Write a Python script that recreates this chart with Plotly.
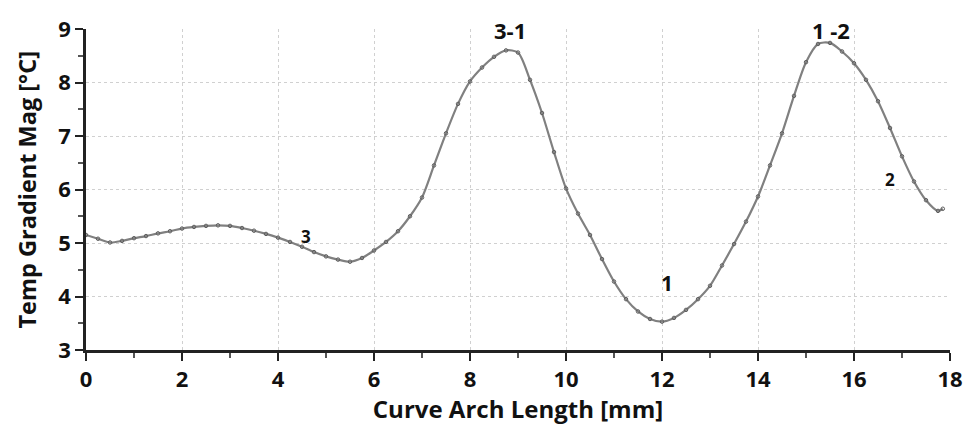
import plotly.graph_objects as go

arch_length = [0, 0.25, 0.5, 0.75, 1.0, 1.25, 1.5, 1.75, 2.0, 2.25, 2.5, 2.75, 3.0, 3.25, 3.5, 3.75,
               4.0, 4.25, 4.5, 4.75, 5.0, 5.25, 5.5, 5.75, 6.0, 6.25, 6.5, 6.75, 7.0, 7.25, 7.5, 7.75,
               8.0, 8.25, 8.5, 8.75, 9.0, 9.25, 9.5, 9.75, 10.0, 10.25, 10.5, 10.75, 11.0, 11.25, 11.5,
               11.75, 12.0, 12.25, 12.5, 12.75, 13.0, 13.25, 13.5, 13.75, 14.0, 14.25, 14.5, 14.75,
               15.0, 15.25, 15.5, 15.75, 16.0, 16.25, 16.5, 16.75, 17.0, 17.25, 17.5, 17.75, 17.85]
grad_mag = [5.15, 5.08, 5.01, 5.04, 5.09, 5.13, 5.18, 5.22, 5.27, 5.30, 5.32, 5.33, 5.32, 5.28, 5.23, 5.17,
            5.10, 5.02, 4.93, 4.83, 4.75, 4.69, 4.65, 4.72, 4.86, 5.02, 5.22, 5.50, 5.85, 6.45, 7.05, 7.60,
            8.02, 8.28, 8.48, 8.60, 8.56, 8.05, 7.43, 6.70, 6.02, 5.55, 5.15, 4.70, 4.28, 3.95, 3.72,
            3.58, 3.53, 3.60, 3.75, 3.95, 4.20, 4.58, 4.98, 5.40, 5.87, 6.45, 7.05, 7.75,
            8.38, 8.72, 8.74, 8.58, 8.36, 8.05, 7.65, 7.15, 6.62, 6.15, 5.80, 5.60, 5.64]

x_ticks = [0, 2, 4, 6, 8, 10, 12, 14, 16, 18]
y_ticks = [3, 4, 5, 6, 7, 8, 9]

label_text = ["3-1", "1 -2", "1", "3", "2"]
label_x = [8.83, 15.53, 12.1, 4.58, 16.75]
label_y = [8.98, 8.98, 4.25, 5.12, 6.18]
label_size = [22, 22, 21, 17, 17]

FONT = "Open Sans"

fig = go.Figure()
fig.add_trace(go.Scatter(
    x=arch_length, y=grad_mag, mode="lines+markers",
    line=dict(color="#808080", width=2.2, shape="spline", smoothing=0.8),
    marker=dict(symbol="circle-open", size=3.5, color="#5e5e5e", line=dict(width=1)),
    showlegend=False, hoverinfo="skip",
))

for t, x, y, s in zip(label_text, label_x, label_y, label_size):
    fig.add_annotation(x=x, y=y, text=f"<b>{t}</b>", showarrow=False,
                       font=dict(family=FONT, size=s, color="#111111"), yanchor="middle")

# y-axis title as rotated annotation for exact placement
fig.add_annotation(xref="paper", yref="paper", x=0, y=0.5, xshift=-60, yshift=-1,
                   text="<b>Temp Gradient Mag [°C]</b>", textangle=-90, showarrow=False,
                   xanchor="center", yanchor="middle",
                   font=dict(family=FONT, size=23.5, color="#111111"))

fig.update_layout(
    template="none",
    width=964, height=425,
    margin=dict(l=86, r=14, t=29, b=75),
    paper_bgcolor="white", plot_bgcolor="white",
    font=dict(family=FONT, color="#111111"),
)
fig.update_xaxes(
    range=[0, 18], tickmode="array", tickvals=x_ticks,
    ticktext=["<b>%d</b>" % v for v in x_ticks],
    tickfont=dict(family=FONT, size=22, color="#111111"),
    showline=True, linecolor="#222222", linewidth=2.5, mirror=False,
    ticks="outside", ticklen=8, tickwidth=1.5, tickcolor="#222222",
    minor=dict(tickvals=[1, 3, 5, 7, 9, 11, 13, 15, 17], ticks="outside", ticklen=5, tickcolor="#555555",
               showgrid=False),
    showgrid=True, gridcolor="#d0d0d0", griddash="dot", gridwidth=1,
    zeroline=False, automargin=False,
    title=dict(text="<b>Curve Arch Length [mm]</b>", font=dict(family=FONT, size=24, color="#111111"),
               standoff=4),
)
fig.update_yaxes(
    range=[3, 9], tickmode="array", tickvals=y_ticks,
    ticktext=["<b>%d</b>" % v for v in y_ticks],
    tickfont=dict(family=FONT, size=22, color="#111111"),
    showline=True, linecolor="#222222", linewidth=2.5,
    ticks="outside", ticklen=8, tickwidth=1.5, tickcolor="#222222",
    minor=dict(tickvals=[3.5, 4.5, 5.5, 6.5, 7.5, 8.5], ticks="outside", ticklen=5, tickcolor="#555555",
               showgrid=False),
    showgrid=True, gridcolor="#d0d0d0", griddash="dot", gridwidth=1,
    zeroline=False, automargin=False,
)
fig.write_html("out.html")
